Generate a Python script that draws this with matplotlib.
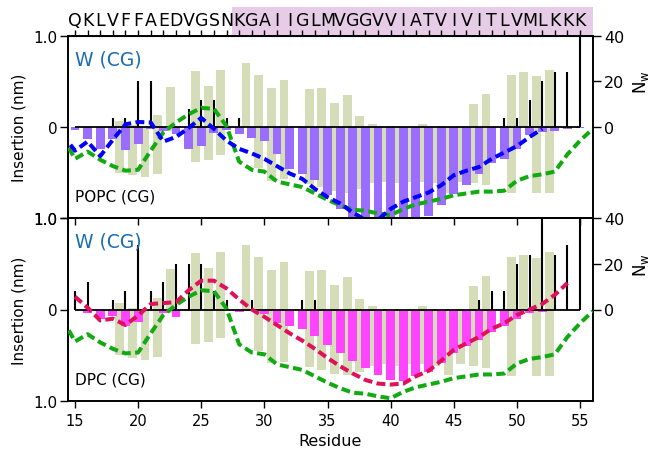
import numpy as np
import matplotlib
matplotlib.use('Agg')
import matplotlib.pyplot as plt
from matplotlib.patches import Rectangle
from matplotlib.transforms import blended_transform_factory

# sequence and residue numbers
seq = "QKLVFFAEDVGSNKGAIIGLMVGGVVIATVIVITLVMLKKK"
res = np.arange(15, 56)

# insertion per residue (nm, negative = below surface)
popc_bar = [-0.03, -0.13, -0.245, -0.135, -0.256, -0.19, -0.02, -0.045, -0.08, -0.245,
            -0.21, -0.066, -0.037, -0.073, -0.117, -0.155, -0.30, -0.458, -0.513, -0.586,
            -0.75, -0.898, -1.02, -1.02, -1.02, -1.02, -1.02, -1.02, -0.98, -0.86,
            -0.74, -0.64, -0.52, -0.40, -0.35, -0.24, -0.09, -0.055, -0.045, -0.025, -0.01]
dpc_bar = [-0.01, -0.037, -0.10, -0.07, -0.176, -0.14, -0.01, -0.037, -0.08, -0.02,
           -0.01, -0.01, -0.005, -0.026, -0.02, -0.045, -0.15, -0.18, -0.21, -0.29,
           -0.385, -0.476, -0.565, -0.64, -0.72, -0.775, -0.785, -0.73, -0.68, -0.58,
           -0.476, -0.40, -0.33, -0.25, -0.18, -0.10, -0.037, -0.026, -0.007, -0.004, -0.005]

# reference range bars (same in both panels)
ref_top = [0, 0, 0, 0.07, 0.02, 0.0, 0.13, 0.44, 0, 0.62,
           0.45, 0.63, 0, 0.70, 0.575, 0.43, 0.52, 0, 0.42, 0.43,
           0.267, 0.355, 0.117, 0.037, 0, 0, 0, 0.037, 0, 0,
           0, 0.256, 0.366, 0, 0.575, 0.60, 0.565, 0.63, 0, 0, 0]
ref_bot = [0, 0, 0, -0.50, -0.53, -0.55, -0.52, -0.04, 0, -0.38,
           -0.36, -0.31, 0, 0, -0.45, -0.59, -0.57, 0, -0.63, -0.66,
           -0.70, -0.72, -0.68, -0.62, -0.60, -0.62, -0.60, -0.60, -0.62, -0.72,
           -0.60, -0.62, -0.64, 0, -0.73, 0, -0.73, -0.73, 0, 0, 0]

# water contacts N_w
popc_nw = [0, 0, 0, 4, 4, 20, 20, 0, 0, 8, 12, 12, 4, 4, 0, 0, 0, 0, 0, 0,
           0, 0, 0, 0, 0, 0, 0, 0, 0, 0, 0, 0, 0, 0, 4, 4, 12, 20, 24, 24, 40]
dpc_nw = [8, 12, 0, 4, 8, 28, 8, 12, 20, 20, 20, 8, 4, 0, 4, 0, 0, 0, 4, 4,
          0, 0, 0, 0, 0, 0, 0, 0, 0, 0, 0, 0, 4, 8, 8, 20, 24, 40, 24, 28, 40]

# dashed curves
popc_x = np.arange(14, 53)
popc_line = [-0.08, -0.26, -0.16, -0.32, -0.14, 0.03, 0.055, 0.05, -0.16, -0.11,
             -0.01, 0.10, -0.02, -0.15, -0.24, -0.29, -0.35, -0.43, -0.51, -0.57,
             -0.68, -0.77, -0.84, -0.94, -1.02, -1.02, -0.90, -0.82, -0.77, -0.72,
             -0.64, -0.53, -0.48, -0.44, -0.35, -0.28, -0.21, -0.11, -0.02]
dpc_x = np.arange(15, 55)
dpc_line = [0.14, 0.02, -0.12, -0.10, -0.17, -0.065, 0.06, 0.07, 0.08, 0.21,
            0.315, 0.315, 0.23, 0.11, 0.0, -0.08, -0.17, -0.26, -0.34, -0.43,
            -0.53, -0.62, -0.70, -0.77, -0.81, -0.82, -0.81, -0.73, -0.67, -0.56,
            -0.44, -0.37, -0.30, -0.21, -0.15, -0.06, 0.0, 0.06, 0.16, 0.29]
ref_x = np.arange(14, 57)
ref_line = [-0.10, -0.35, -0.27, -0.36, -0.43, -0.48, -0.47, -0.26, -0.06, 0.05,
            0.14, 0.21, 0.20, 0.01, -0.38, -0.47, -0.49, -0.60, -0.63, -0.66,
            -0.73, -0.80, -0.86, -0.91, -0.92, -0.95, -0.97, -0.90, -0.85, -0.82,
            -0.79, -0.75, -0.73, -0.71, -0.71, -0.70, -0.59, -0.54, -0.52, -0.49,
            -0.30, -0.15, -0.02]

olive = '#d4dcb8'
dash = (2.2, 1.1)

fig = plt.figure(figsize=(6.56, 4.6), dpi=100)
ax1 = fig.add_axes([0.1041, 0.5239, 0.7994, 0.3957])
ax2 = fig.add_axes([0.1041, 0.1261, 0.7994, 0.3978])

panels = [(ax1, popc_bar, '#9b6dff', popc_nw, popc_x, popc_line, 'blue', 'POPC (CG)'),
          (ax2, dpc_bar, '#ff44ff', dpc_nw, dpc_x, dpc_line, '#e0105a', 'DPC (CG)')]

for ax, bars, bcol, nw, lx, ly, lcol, name in panels:
    top = np.array(ref_top)
    bot = np.array(ref_bot)
    ax.bar(res + 0.55, top - bot, bottom=bot, width=0.7, color=olive, zorder=1)
    ax.bar(res, bars, width=0.7, color=bcol, zorder=2)
    ax.hlines(0, 15, 55, color='k', lw=1.3, zorder=3)
    ax.plot(ref_x, ref_line, color='#11aa11', lw=2.9, dashes=dash, zorder=4)
    ax.plot(lx, ly, color=lcol, lw=2.9, dashes=dash, zorder=5)
    ax.set_xlim(14.47, 56.0)
    ax.set_ylim(-1, 1)
    ax.set_yticks([-1, 0, 1])
    ax.set_yticklabels(['1.0', '0', '1.0'])
    ax.set_ylabel('Insertion (nm)', fontsize=11)
    ax.yaxis.set_label_coords(-0.08, 0.5)
    ax.set_xticks(range(15, 56, 5))
    ax.tick_params(axis='y', length=6, width=1, labelsize=11, pad=2)
    ax.tick_params(axis='x', length=5, width=1, labelsize=10.5)
    for s in ax.spines.values():
        s.set_linewidth(1.2)
    ax.text(0.013, 0.875, 'W (CG)', transform=ax.transAxes, color='#1a6db5',
            fontsize=13.5, va='center', ha='left')
    ax.text(0.013, 0.12, name, transform=ax.transAxes, fontsize=11,
            va='center', ha='left')

    axr = ax.twinx()
    axr.vlines(res, 0, nw, color='k', lw=1.5)
    axr.set_ylim(-40, 40)
    axr.set_yticks([0, 20, 40])
    axr.tick_params(length=6, width=1, labelsize=11.5, pad=2)
    axr.set_ylabel(r'N$_\mathrm{w}$', fontsize=12)
    axr.yaxis.set_label_coords(1.073, 0.75)
    for s in axr.spines.values():
        s.set_linewidth(1.2)
    ax.set_zorder(axr.get_zorder() + 1)
    ax.patch.set_visible(False)

ax1.tick_params(axis='x', labelbottom=False)
ax2.set_xlabel('Residue', fontsize=11.5)

# sequence on top
sec = ax1.secondary_xaxis('top')
sec.set_xticks(res)
sec.set_xticklabels(list(seq))
sec.tick_params(length=4, width=1, labelsize=12.5, pad=1)
trans = blended_transform_factory(ax1.transData, ax1.transAxes)
fig.add_artist(Rectangle((27.4, 1.0), 28.6, 0.16, transform=trans,
                         color='#e6cce6', lw=0, zorder=-1))

fig.savefig('out.png', dpi=100)
